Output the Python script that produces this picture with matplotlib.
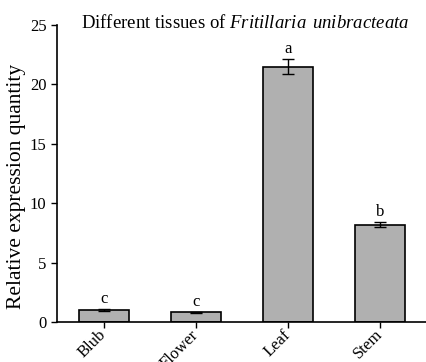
import numpy as np
import matplotlib.pyplot as plt
import matplotlib.transforms as mtransforms

plt.rcParams['font.family'] = ['Liberation Serif', 'DejaVu Serif']
plt.rcParams['mathtext.fontset'] = 'custom'
plt.rcParams['mathtext.rm'] = 'Liberation Serif'
plt.rcParams['mathtext.it'] = 'Liberation Serif:italic'

tissues = ['Blub', 'Flower', 'Leaf', 'Stem']
expr = [1.0, 0.8, 21.5, 8.2]
err = [0.08, 0.06, 0.65, 0.2]
letters = ['c', 'c', 'a', 'b']

fig = plt.figure(figsize=(4.27, 3.62), dpi=100)
ax = fig.add_axes([0.1335, 0.1105, 0.8665, 0.8205])
x = np.arange(len(tissues))
ax.bar(x, expr, width=0.55, color='#b0b0b0', edgecolor='black', linewidth=1.2,
       yerr=err, capsize=4, error_kw={'elinewidth': 1.0, 'capthick': 1.0})
for xi, v, e, l in zip(x, expr, err, letters):
    ax.text(xi, v + e + 0.15, l, ha='center', va='bottom', fontsize=12)

ax.set_xlim(-0.51, 3.51)
ax.set_ylim(0, 25)
ax.set_yticks([0, 5, 10, 15, 20, 25])
ax.set_xticks(x)
ax.set_xticklabels(tissues, rotation=45, ha='right', va='center',
                   rotation_mode='anchor', fontsize=12)
offset = mtransforms.ScaledTranslation(11 / 100, -4 / 100, fig.dpi_scale_trans)
for lab in ax.get_xticklabels():
    lab.set_transform(lab.get_transform() + offset)
ax.tick_params(axis='y', labelsize=12, length=4, width=1)
ax.tick_params(axis='x', length=4, width=1)
ax.spines['top'].set_visible(False)
ax.spines['right'].set_visible(False)
ax.spines['left'].set_linewidth(1.2)
ax.spines['bottom'].set_linewidth(1.2)
ax.set_ylabel('Relative expression quantity', fontsize=15.5)
ax.yaxis.set_label_coords(-0.084, 0.455)
ax.text(0.508, 1.005, 'Different tissues of $\\it{Fritillaria\\ \\,unibracteata}$',
        transform=ax.transAxes, ha='center', va='center', fontsize=13.5)
fig.savefig('out.png', dpi=100)
